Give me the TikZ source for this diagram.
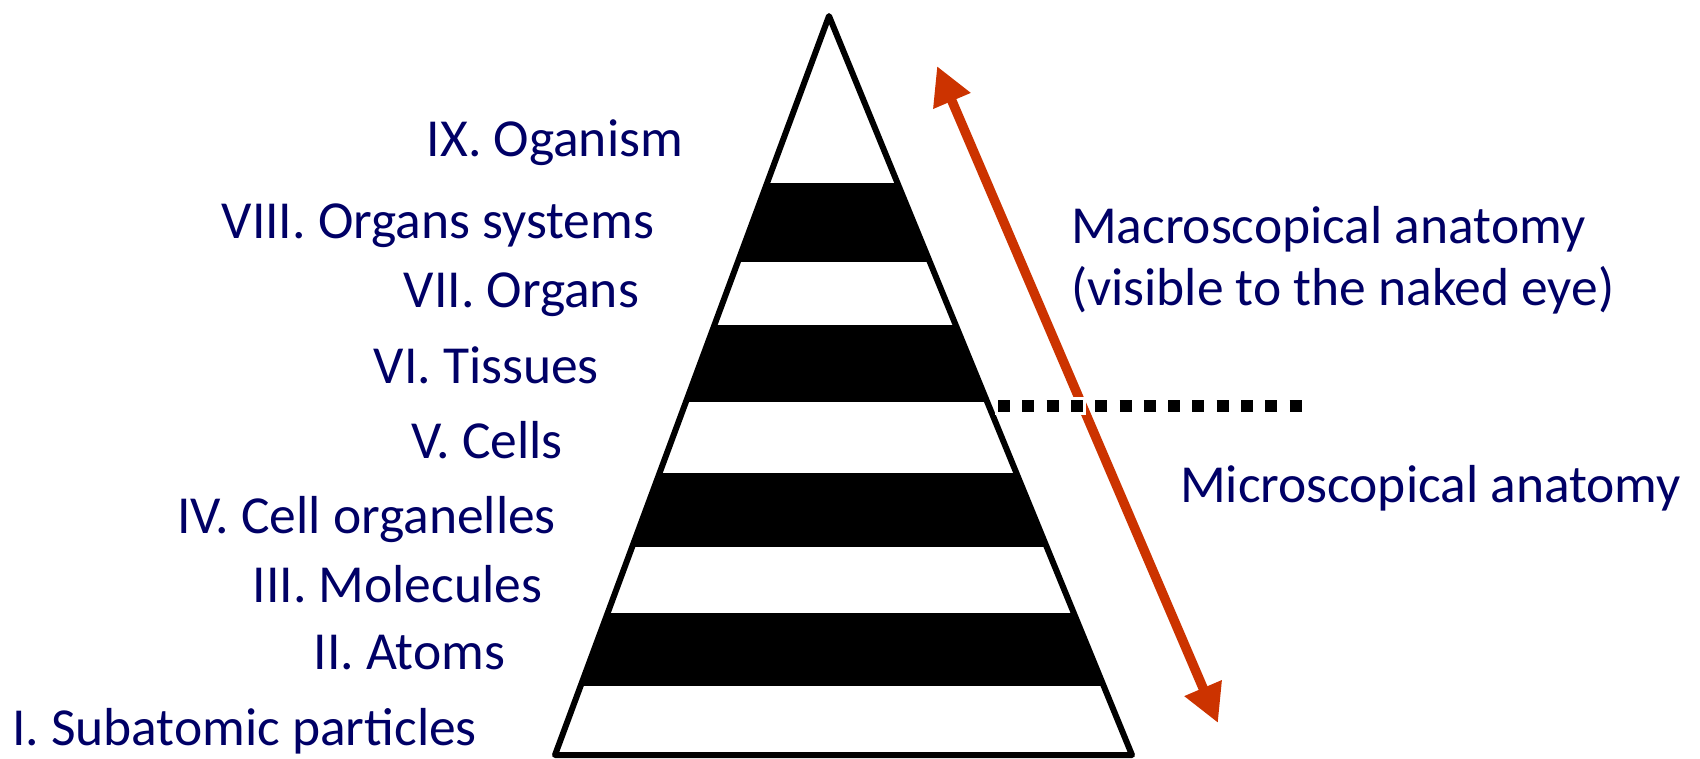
\documentclass[tikz,border=0pt]{standalone}
\usepackage{fontspec}
\setmainfont{Carlito}
\usetikzlibrary{arrows.meta}
\definecolor{navytext}{RGB}{0,0,102}
\definecolor{arrowred}{RGB}{204,51,0}
\tikzset{
  lbl/.style={inner sep=0pt, outer sep=0pt, text=navytext, font=\fontsize{53.5}{64}\selectfont},
  band/.style={fill=black},
  outline/.style={draw=black, line width=6pt, line join=round},
  scalearrow/.style={draw=arrowred, line width=9.5pt, {Triangle[length=38pt,width=38pt]}-{Triangle[length=38pt,width=38pt]}},
  sepline/.style={draw=black, line width=12pt, dash pattern=on 12pt off 12.3pt},
  sephalo/.style={draw=white, line width=18pt, dash pattern=on 18pt off 6.3pt},
}
\begin{document}
\begin{tikzpicture}[x=1pt,y=-1pt]
\useasboundingbox (0,0) rectangle (1700,758);
% pyramid corners
\coordinate (apex) at (829,16);
\coordinate (bl) at (555,755);
\coordinate (br) at (1132,755);
% bands
\begin{scope}
  \clip (apex) -- (bl) -- (br) -- cycle;
  \fill[band] (500,183) rectangle (1200,262);
  \fill[band] (500,325) rectangle (1200,402);
  \fill[band] (500,473) rectangle (1200,547);
  \fill[band] (500,613) rectangle (1200,686);
\end{scope}
\draw[outline] (apex) -- (bl) -- (br) -- cycle;
% scale arrow
\coordinate (arrTop) at (937,66);
\coordinate (arrBot) at (1218,723);
\draw[scalearrow] (arrTop) -- (arrBot);
% separation line
\coordinate (dashL) at (998,406);
\coordinate (dashR) at (1302,406);
\coordinate (haloL) at (995,406);
\coordinate (haloR) at (1305,406);
\draw[sephalo] (haloL) -- (haloR);
\draw[sepline] (dashL) -- (dashR);
% level labels
\node[lbl, anchor=base east] (l9) at (683,156) {IX. Oganism};
\node[lbl, anchor=base east] (l8) at (654,238) {VIII. Organs systems};
\node[lbl, anchor=base east] (l7) at (639,307) {VII. Organs};
\node[lbl, anchor=base east] (l6) at (599,383) {VI. Tissues};
\node[lbl, anchor=base east] (l5) at (563,458) {V. Cells};
\node[lbl, anchor=base east] (l4) at (556,533) {IV. Cell organelles};
\node[lbl, anchor=base east] (l3) at (542,602) {III. Molecules};
\node[lbl, anchor=base east] (l2) at (505,669) {II. Atoms};
\node[lbl, anchor=base east] (l1) at (477,745) {I. Subatomic particles};
% side labels
\node[lbl, anchor=base west] (macro1) at (1071,243) {Macroscopical anatomy};
\node[lbl, anchor=base west] (macro2) at (1071,305) {(visible to the naked eye)};
\node[lbl, anchor=base west] (micro) at (1180,502) {Microscopical anatomy};
\end{tikzpicture}
\end{document}
